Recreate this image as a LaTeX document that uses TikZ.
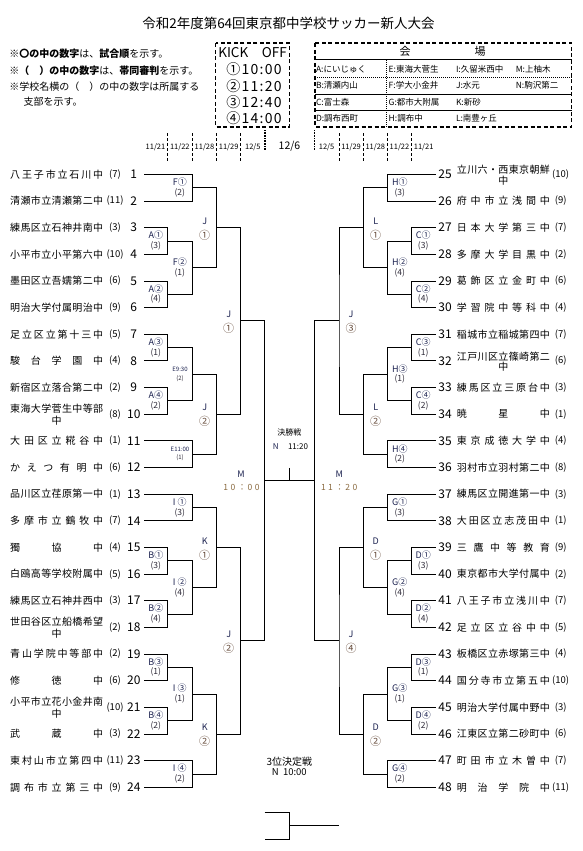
\documentclass[tikz,border=0pt]{standalone}
\usepackage{fontspec}
\setmainfont{Noto Sans CJK JP}
\usetikzlibrary{calc}
\definecolor{lblc}{HTML}{1C2250}
\definecolor{circc}{HTML}{4A4868}
\definecolor{parc}{HTML}{2E2A38}
\definecolor{bigc}{HTML}{6A5040}
\definecolor{timec}{HTML}{8A6A40}
\def\spreadA#1{\ifx#1\relax\else#1\expandafter\spreadB\fi}
\def\spreadB#1{\ifx#1\relax\else\hfill#1\expandafter\spreadB\fi}
\newcommand\spreadname[1]{\hbox to 93pt{\expandafter\spreadA#1\relax}}
\newcommand\Y[1]{174.3+(#1-1)*26.65}
\tikzset{
 br/.style={line width=0.8pt},
 tname/.style={inner sep=0pt, font=\fontsize{10}{10}\selectfont, anchor=west},
 tname2/.style={inner sep=0pt, font=\fontsize{10}{10}\selectfont},
 tnum/.style={inner sep=0pt, font=\fontsize{12}{12}\selectfont},
 taff/.style={inner sep=0pt, font=\fontsize{9.5}{9.5}\selectfont},
 mla/.style={inner sep=0pt, font=\fontsize{9}{9}\selectfont, text=lblc},
 mlb/.style={inner sep=0pt, font=\fontsize{8.5}{8.5}\selectfont, text=parc},
 mls/.style={inner sep=0pt, font=\fontsize{6}{6}\selectfont, text=lblc},
 mlc/.style={inner sep=0pt, font=\fontsize{9}{9}\selectfont, text=lblc},
 mld/.style={inner sep=0pt, font=\fontsize{11}{11}\selectfont, text=bigc},
 boxd/.style={line width=1.6pt, dash pattern=on 4pt off 2.5pt},
 dtick/.style={line width=0.8pt, dash pattern=on 3pt off 2pt},
 dthick/.style={line width=1.6pt, dash pattern=on 0.8pt off 0.8pt},
 dlab/.style={inner sep=0pt, font=\fontsize{7.5}{7.5}\selectfont},
 note/.style={inner sep=0pt, anchor=west, font=\fontsize{10}{10}\selectfont},
 ven/.style={inner sep=0pt, anchor=west, font=\fontsize{8.5}{8.5}\selectfont},
 kick/.style={inner sep=0pt, font=\fontsize{13.5}{13.5}\selectfont},
 kickt/.style={inner sep=0pt, font=\fontsize{14}{14}\selectfont\addfontfeature{LetterSpace=9}},
 mtime/.style={inner sep=0pt, font=\fontsize{8.5}{8.5}\selectfont, text=timec},
}
\begin{document}
\begin{tikzpicture}[x=1pt,y=-1pt]
\useasboundingbox (0,0) rectangle (583,851);
\fill[white] (0,0) rectangle (583,851);
% title
\node[inner sep=0pt, font=\fontsize{13.5}{13.5}\selectfont] (title) at (288.5,23.3) {令和2年度第64回東京都中学校サッカー新人大会};
% notes
\node[note] (note1) at (9.2,53.3) {※\textbf{〇の中の数字}は、\textbf{試合順}を示す。};
\node[note] (note2) at (9.2,70.7) {※\textbf{（　）の中の数字}は、\textbf{帯同審判}を示す。};
\node[note] (note3) at (9.2,86.5) {※学校名横の（　）の中の数字は所属する};
\node[note] (note4) at (23.4,102) {支部を示す。};
% kick off box
\draw[boxd] (215.5,43.3) rectangle (289.5,126.7);
\node[kick] (ko) at (252.5,52.3) {KICK　OFF};
\node[kickt] (ko1) at (254,69) {①10:00};
\node[kickt] (ko2) at (254,85.7) {②11:20};
\node[kickt] (ko3) at (254,102.3) {③12:40};
\node[kickt] (ko4) at (254,118.3) {④14:00};
% venue box
\draw[boxd] (315,43.3) rectangle (571.6,126.7);
\node[inner sep=0pt, font=\fontsize{11}{11}\selectfont] (vh1) at (405,51.7) {会};
\node[inner sep=0pt, font=\fontsize{11}{11}\selectfont] (vh2) at (480,51.7) {場};
\draw[line width=1pt] (315,60) -- (571.6,60);
\draw[line width=1pt, dash pattern=on 1pt off 1pt] (315,77) -- (571.6,77);
\draw[line width=0.8pt] (315,94) -- (571.6,94);
\draw[line width=1pt] (315,110.3) -- (571.6,110.3);
\draw[line width=1pt, dash pattern=on 1pt off 1pt] (386.6,60) -- (386.6,126.7);
\node[ven] (va) at (315.8,69.3) {A:にいじゅく};
\node[ven] (ve) at (388.5,69.3) {E:東海大菅生};
\node[ven] (vi) at (455.8,69.3) {I:久留米西中};
\node[ven] (vm) at (515.6,69.3) {M:上柚木};
\node[ven] (vb) at (315.8,85.5) {B:清瀬内山};
\node[ven] (vf) at (388.5,85.5) {F:学大小金井};
\node[ven] (vj) at (455.8,85.5) {J:水元};
\node[ven] (vn) at (515.6,85.5) {N:駒沢第二};
\node[ven] (vc) at (315.8,101.9) {C:富士森};
\node[ven] (vg) at (388.5,101.9) {G:都市大附属};
\node[ven] (vk) at (455.8,101.9) {K:新砂};
\node[ven] (vd) at (315.8,118.3) {D:調布西町};
\node[ven] (vhh) at (388.5,118.3) {H:調布中};
\node[ven] (vl) at (455.8,118.3) {L:南豊ヶ丘};
% date row
\foreach \x in {167.3,192.3,216.7,240.7,339,363.3,387.3,411.7}
  \draw[dtick] (\x,133) -- (\x,161.5);
\foreach \x in {265,314.3}
  \draw[dthick] (\x,130) -- (\x,150.7);
\foreach \x/\d/\n in {155.5/11\slash 21/d1,179.8/11\slash 22/d2,204.5/11\slash 28/d3,228.7/11\slash 29/d4,252.8/12\slash 5/d5,326.6/12\slash 5/d6,351.1/11\slash 29/d7,375.3/11\slash 28/d8,399.5/11\slash 22/d9,423.7/11\slash 21/d10}
  \node[dlab] (\n) at (\x,146.7) {\d};
\node[inner sep=0pt, font=\fontsize{10.5}{10.5}\selectfont] (d0) at (289.5,146.7) {12/6};
% left teams
\foreach \i/\af in {1/7,2/11,3/3,4/10,5/6,6/9,7/5,8/4,9/2,10/8,11/1,12/6,13/1,14/7,15/4,16/5,17/3,18/2,19/2,20/6,21/10,22/3,23/11,24/9}{
  \coordinate (t\i) at (144,{\Y{\i}});
  \node[taff] (a\i) at (115,{\Y{\i}}) {(\af)};
  \node[tnum] (k\i) at (133.8,{\Y{\i}}) {\i};
}
\foreach \i/\nm in {1/八王子市立石川中,2/清瀬市立清瀬第二中,3/練馬区立石神井南中,4/小平市立小平第六中,5/墨田区立吾嬬第二中,6/明治大学付属明治中,7/足立区立第十三中,8/駿台学園中,9/新宿区立落合第二中,11/大田区立糀谷中,12/かえつ有明中,13/品川区立荏原第一中,14/多摩市立鶴牧中,15/獨協中,16/白鴎高等学校附属中,17/練馬区立石神井西中,19/青山学院中等部中,20/修徳中,22/武蔵中,23/東村山市立第四中,24/調布市立第三中}
  \node[tname] (n\i) at (10,{\Y{\i}}) {\spreadname{\nm}};
\node[tname] (n10) at (10,{\Y{10}-5}) {\spreadname{東海大学菅生中等部}};
\node[tname2] (n10b) at (56.5,{\Y{10}+6.5}) {中};
\node[tname] (n18) at (10,{\Y{18}-5.5}) {\spreadname{世田谷区立船橋希望}};
\node[tname2] (n18b) at (56.5,{\Y{18}+6}) {中};
\node[tname] (n21) at (10,{\Y{21}-5.5}) {\spreadname{小平市立花小金井南}};
\node[tname2] (n21b) at (56.5,{\Y{21}+6}) {中};
% right teams
\foreach \i/\af in {25/10,26/9,27/7,28/2,29/6,30/4,31/7,32/6,33/3,34/1,35/4,36/8,37/3,38/1,39/9,40/2,41/7,42/5,43/4,44/10,45/3,46/6,47/7,48/11}{
  \coordinate (t\i) at (435.7,{\Y{\i-24}});
  \node[taff] (a\i) at (560.7,{\Y{\i-24}}) {(\af)};
  \node[tnum] (k\i) at (445,{\Y{\i-24}}) {\i};
}
\foreach \i/\nm in {26/府中市立浅間中,27/日本大学第三中,28/多摩大学目黒中,29/葛飾区立金町中,30/学習院中等科中,31/稲城市立稲城第四中,33/練馬区立三原台中,34/暁星中,35/東京成徳大学中,36/羽村市立羽村第二中,37/練馬区立開進第一中,38/大田区立志茂田中,39/三鷹中等教育,40/東京都市大学付属中,41/八王子市立浅川中,42/足立区立谷中中,43/板橋区立赤塚第三中,44/国分寺市立第五中,45/明治大学付属中野中,46/江東区立第二砂町中,47/町田市立木曽中,48/明治学院中}
  \node[tname] (n\i) at (456.7,{\Y{\i-24}}) {\spreadname{\nm}};
\node[tname] (n25) at (456.7,{\Y{1}-4.5}) {\spreadname{立川六・西東京朝鮮}};
\node[tname2] (n25b) at (503.3,{\Y{1}+6}) {中};
\node[tname] (n32) at (456.7,{\Y{8}-4.5}) {\spreadname{江戸川区立篠崎第二}};
\node[tname2] (n32b) at (503.3,{\Y{8}+5.5}) {中};
% matches
\foreach \m/\x/\k/\ca/\cb in {F1/192.3/1.5/t1/t2,A1/167.3/3.5/t3/t4,A2/167.3/5.5/t5/t6,F2/192.3/4.5/A1/A2,JA/216.7/3/F1/F2,A3/167.3/7.5/t7/t8,A4/167.3/9.5/t9/t10,E1/192.3/8.5/A3/A4,E2/192.3/11.5/t11/t12,JB/216.7/10/E1/E2,JC/240.7/6.5/JA/JB,I1/192.3/13.5/t13/t14,B1/167.3/15.5/t15/t16,B2/167.3/17.5/t17/t18,I2/192.3/16.5/B1/B2,K1/216.7/15/I1/I2,B3/167.3/19.5/t19/t20,B4/167.3/21.5/t21/t22,I3/192.3/20.5/B3/B4,I4/192.3/23.5/t23/t24,K2/216.7/22/I3/I4,JD/240.7/18.5/K1/K2,ML/264.5/12.5/JC/JD,H1/387.3/1.5/t25/t26,C1/411.7/3.5/t27/t28,C2/411.7/5.5/t29/t30,H2/387.3/4.5/C1/C2,L1/363.3/3/H1/H2,C3/411.7/7.5/t31/t32,C4/411.7/9.5/t33/t34,H3/387.3/8.5/C3/C4,H4/387.3/11.5/t35/t36,L2/363.3/10/H3/H4,J3/339/6.5/L1/L2,G1/387.3/13.5/t37/t38,D1/411.7/15.5/t39/t40,D2/411.7/17.5/t41/t42,G2/387.3/16.5/D1/D2,DA/363.3/15/G1/G2,D3/411.7/19.5/t43/t44,D4/411.7/21.5/t45/t46,G3/387.3/20.5/D3/D4,G4/387.3/23.5/t47/t48,DB/363.3/22/G3/G4,J4/339/18.5/DA/DB,MR/314.5/12.5/J3/J4}{
  \coordinate (\m) at (\x,{\Y{\k}});
  \draw[br] (\ca) -| (\m) |- (\cb);
}
% final
\draw[br] (ML) -- (MR);
\coordinate (fin) at (289.5,{\Y{12.5}-13});
\draw[br] (fin) -- (fin |- ML);
% third place
\coordinate (tp1) at (264.5,812.3);
\coordinate (tp2) at (264.5,839);
\coordinate (tp) at (289.5,825.7);
\coordinate (tpo) at (338.7,825.7);
\draw[br] (tp1) -| (tp) |- (tp2);
\draw[br] (tp) -- (tpo);
% small labels
\foreach \m/\dx/\ta/\tb in {F1/-12.5/F①/(2),A1/-11.5/A①/(3),A2/-11.5/A②/(4),F2/-12.5/F②/(1),A3/-11.5/A③/(1),A4/-11.5/A④/(2),I1/-12.5/I ①/(3),B1/-11.5/B①/(3),B2/-11.5/B②/(4),I2/-12.5/I ②/(4),B3/-11.5/B③/(1),B4/-11.5/B④/(2),I3/-12.5/I ③/(1),I4/-12.5/I ④/(2),H1/12.5/H①/(3),C1/11.5/C①/(3),C2/11.5/C②/(4),H2/12.5/H②/(4),C3/11.5/C③/(1),C4/11.5/C④/(2),H3/12.5/H③/(1),H4/12.5/H④/(2),G1/12.5/G①/(3),D1/11.5/D①/(3),D2/11.5/D②/(4),G2/12.5/G②/(4),D3/11.5/D③/(1),D4/11.5/D④/(2),G3/12.5/G③/(1),G4/12.5/G④/(2)}{
  \node[mla] (\m-a) at ($(\m)+(\dx,-5.5)$) {\ta};
  \node[mlb] (\m-b) at ($(\m)+(\dx,5)$) {\tb};
}
\node[mls] (E1-a) at ($(E1)+(-12.3,-4.5)$) {E9:30};
\node[mls,text=parc] (E1-b) at ($(E1)+(-12.3,4)$) {(2)};
\node[mls] (E2-a) at ($(E2)+(-12.3,-4.5)$) {E11:00};
\node[mls,text=parc] (E2-b) at ($(E2)+(-12.3,3.5)$) {(1)};
% big labels
\foreach \m/\dx/\ta/\tb in {JA/-12/J/①,JB/-12/J/②,JC/-12/J/①,K1/-12/K/①,K2/-12/K/②,JD/-12/J/②,L1/12.4/L/①,L2/12.4/L/②,J3/12/J/③,DA/12.4/D/①,DB/12.4/D/②,J4/12/J/④}{
  \node[mlc] (\m-a) at ($(\m)+(\dx,-6.5)$) {\ta};
  \node[mld] (\m-b) at ($(\m)+(\dx,7.5)$) {\tb};
}
\node[mlc] (ML-a) at ($(ML)+(-23.5,-7)$) {M};
\node[mtime] (ML-b) at ($(ML)+(-23,7)$) {1\kern2.5pt0\kern2.5pt：\kern1.5pt0\kern2.5pt0};
\node[mlc] (MR-a) at ($(MR)+(24.7,-7)$) {M};
\node[mtime] (MR-b) at ($(MR)+(24.7,7)$) {1\kern2.5pt1\kern2.5pt：\kern1.5pt2\kern2.5pt0};
% final labels
\node[inner sep=0pt, font=\fontsize{8}{8}\selectfont] (fin-a) at (289.3,432.7) {決勝戦};
\node[inner sep=0pt, font=\fontsize{8}{8}\selectfont, text=lblc] (fin-b) at (275.7,446.7) {N};
\node[inner sep=0pt, font=\fontsize{8}{8}\selectfont] (fin-c) at (298,446.7) {11:20};
\node[inner sep=0pt, font=\fontsize{10}{10}\selectfont] (tp-a) at (289.3,761.7) {3位決定戦};
\node[inner sep=0pt, font=\fontsize{9.5}{9.5}\selectfont] (tp-b) at (289.3,772.5) {N\ \ 10:00};
\end{tikzpicture}
\end{document}
